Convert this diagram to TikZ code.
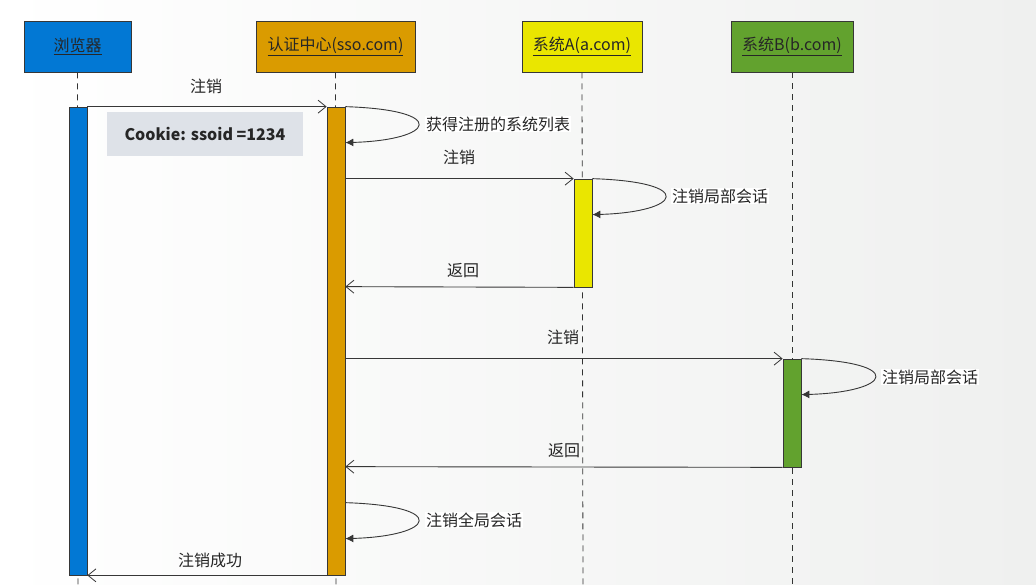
\documentclass[tikz,border=0pt]{standalone}
\usepackage{fontspec}
\setmainfont{Noto Sans CJK SC}
\usetikzlibrary{arrows.meta,calc}
\definecolor{cblue}{RGB}{2,120,212}
\definecolor{corange}{RGB}{218,155,0}
\definecolor{cyellow}{RGB}{234,230,0}
\definecolor{cgreen}{RGB}{98,162,46}
\definecolor{cline}{RGB}{55,55,55}
\definecolor{cookiebg}{RGB}{222,226,232}
\definecolor{bgright}{RGB}{239,240,239}
\tikzset{
  head/.style={draw=cline, line width=0.9pt, minimum height=51pt, inner sep=0pt, font=\fontsize{16}{18}\selectfont, text=black!85},
  bar/.style={draw=cline, line width=0.7pt, minimum width=18pt, inner sep=0pt},
  life/.style={dashed, dash pattern=on 6pt off 5pt, line width=0.8pt, black!80},
  msg/.style={draw=cline, line width=0.9pt, -{Straight Barb[length=8pt,width=13pt,line width=0.8pt]}},
  selfmsg/.style={draw=cline, line width=0.9pt, -{Latex[length=8pt,width=8pt]}},
  lbl/.style={font=\fontsize{16}{18}\selectfont, text=black!85, fill=white, inner sep=1pt},
}
\begin{document}
\begin{tikzpicture}[x=1pt,y=-1pt]
\useasboundingbox (0,0) rectangle (1036,585);
\shade[left color=white, right color=bgright] (0,0) rectangle (1036,585);
% headers
\node[head, fill=cblue, minimum width=107pt] (hb) at (77.5,46.5) {\underline{浏览器}};
\node[head, fill=corange, minimum width=159pt] (hs) at (335.5,46.5) {\underline{认证中心(sso.com)}};
\node[head, fill=cyellow, minimum width=120pt] (ha) at (582,46.5) {\underline{系统A(a.com)}};
\node[head, fill=cgreen, minimum width=122pt] (hB) at (792,46.5) {\underline{系统B(b.com)}};
% lifelines
\coordinate (eb) at (78,585);
\coordinate (es) at (336,585);
\coordinate (ea) at (583,585);
\coordinate (eB) at (792,585);
\draw[life] (hb.south) -- (eb);
\draw[life] (hs.south) -- (es);
\draw[life] (ha.south) -- (ea);
\draw[life] (hB.south) -- (eB);
% activation bars
\node[bar, fill=cblue, minimum height=468pt] (bb) at (78,341) {};
\node[bar, fill=corange, minimum height=468pt] (bs) at (336,341) {};
\node[bar, fill=cyellow, minimum height=108pt] (ba) at (583,233) {};
\node[bar, fill=cgreen, minimum height=108pt] (bB) at (792,413) {};
% cookie
\node[fill=cookiebg, minimum width=196pt, minimum height=44pt, inner sep=0pt, font=\fontsize{16}{18}\selectfont\bfseries, text=black!85] (ck) at (205,134) {Cookie: ssoid =1234};
% message 1
\draw[msg] (bb.north east) -- (bs.north west);
\node[lbl, fill=none] (l1) at (206,86) {注销};
% self loop 1
\coordinate (s1a) at ($(bs.north east)$);
\coordinate (s1b) at ($(bs.north east)+(0,36)$);
\draw[selfmsg] (s1a) .. controls (450,110) and (435,140) .. (s1b);
\node[lbl, anchor=west] (l2) at (425,124) {获得注册的系统列表};
% message to A
\coordinate (m2s) at ($(bs.north east)+(0,72)$);
\draw[msg] (m2s) -- (ba.north west);
\node[lbl, fill=none] (l3) at (459,157) {注销};
\coordinate (s2b) at ($(ba.north east)+(0,36)$);
\draw[selfmsg] (ba.north east) .. controls (697,182) and (682,212) .. (s2b);
\node[lbl, anchor=west] (l4) at (671,196) {注销局部会话};
% return from A
\coordinate (r1s) at ($(bs.north east)+(0,180)$);
\draw[msg] (ba.south west) -- (r1s);
\node[lbl, fill=none] (l5) at (463,271) {返回};
% message to B
\coordinate (m3s) at ($(bs.north east)+(0,252)$);
\draw[msg] (m3s) -- (bB.north west);
\node[lbl, fill=none] (l6) at (563,337) {注销};
\coordinate (s3b) at ($(bB.north east)+(0,36)$);
\draw[selfmsg] (bB.north east) .. controls (907,362) and (892,392) .. (s3b);
\node[lbl, anchor=west] (l7) at (881,377) {注销局部会话};
% return from B
\coordinate (r2s) at ($(bs.north east)+(0,360)$);
\draw[msg] (bB.south west) -- (r2s);
\node[lbl, fill=none] (l8) at (564,451) {返回};
% self loop global
\coordinate (s4a) at ($(bs.north east)+(0,396)$);
\coordinate (s4b) at ($(bs.north east)+(0,432)$);
\draw[selfmsg] (s4a) .. controls (450,506) and (435,536) .. (s4b);
\node[lbl, anchor=west] (l9) at (425,520) {注销全局会话};
% final
\draw[msg] (bs.south west) -- (bb.south east);
\node[lbl, fill=none] (l10) at (210,560) {注销成功};
\end{tikzpicture}
\end{document}
